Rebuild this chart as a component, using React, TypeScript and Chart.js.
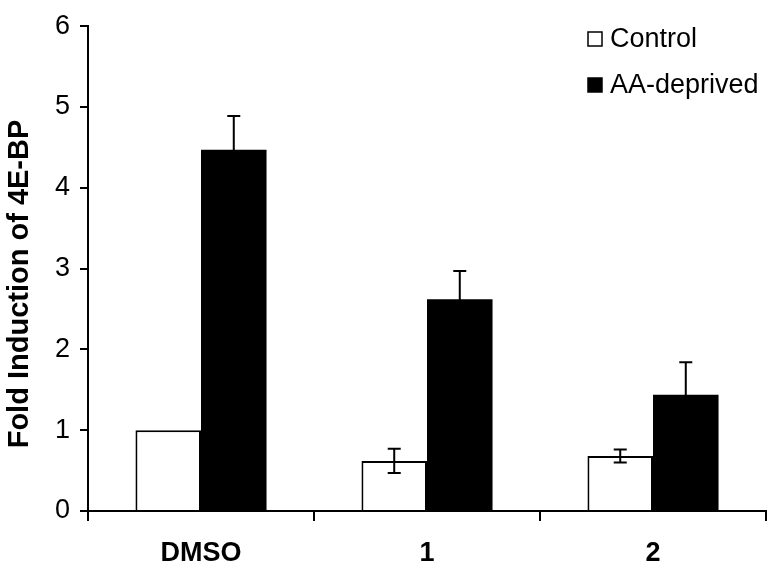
import React, { useEffect, useRef } from 'react';
import { Chart, registerables } from 'chart.js';

Chart.register(...registerables);

const categories = ['DMSO', '1', '2'];
const seriesNames = ['Control', 'AA-deprived'];
const controlValues = [1.0, 0.62, 0.68];
const controlErrors = [0, 0.15, 0.08];
const aaValues = [4.47, 2.62, 1.44];
const aaErrors = [0.42, 0.35, 0.4];
const yMin = 0;
const yMax = 6;
const yStep = 1;
const yTitle = 'Fold Induction of 4E-BP';

const FONT = "'Liberation Sans', Arial, Helvetica, sans-serif";

const errorBarPlugin = {
  id: 'errorBars',
  afterDatasetsDraw(chart: any) {
    const ctx = chart.ctx;
    const y = chart.scales.y;
    chart.data.datasets.forEach((ds: any, di: number) => {
      const meta = chart.getDatasetMeta(di);
      const errs: number[] = ds.errors || [];
      meta.data.forEach((bar: any, i: number) => {
        const e = errs[i];
        if (!e) return;
        const v = ds.data[i] as number;
        const x = bar.x;
        const yTop = y.getPixelForValue(v + e);
        const yBot = y.getPixelForValue(v - e);
        ctx.save();
        ctx.strokeStyle = '#000';
        ctx.lineWidth = 2;
        ctx.beginPath();
        ctx.moveTo(x, yTop);
        ctx.lineTo(x, yBot);
        ctx.moveTo(x - 6.5, yTop);
        ctx.lineTo(x + 6.5, yTop);
        ctx.moveTo(x - 6.5, yBot);
        ctx.lineTo(x + 6.5, yBot);
        ctx.stroke();
        ctx.restore();
      });
    });
  },
};

const legendTitlePlugin = {
  id: 'legendTitle',
  afterDraw(chart: any) {
    const ctx = chart.ctx;
    ctx.save();
    // legend
    ctx.font = `27px ${FONT}`;
    ctx.fillStyle = '#000';
    ctx.textAlign = 'left';
    ctx.textBaseline = 'alphabetic';
    chart.data.datasets.forEach((ds: any, i: number) => {
      const boxX = 588;
      const boxY = 32 + i * 46;
      if (i === 0) {
        ctx.fillStyle = '#fff';
        ctx.fillRect(boxX, boxY, 14, 14);
        ctx.strokeStyle = '#000';
        ctx.lineWidth = 1.5;
        ctx.strokeRect(boxX, boxY, 14, 14);
      } else {
        ctx.fillStyle = '#000';
        ctx.fillRect(boxX - 0.75, boxY - 0.75, 15.5, 15.5);
      }
      ctx.fillStyle = '#000';
      ctx.fillText(ds.label, 610, boxY + 14.5);
    });
    // y axis title
    ctx.translate(19.5, 284);
    ctx.rotate(-Math.PI / 2);
    ctx.font = `bold 29px ${FONT}`;
    ctx.textAlign = 'center';
    ctx.textBaseline = 'middle';
    ctx.fillText(yTitle, 0, 0);
    ctx.restore();
  },
};

export default function App() {
  const canvasRef = useRef<HTMLCanvasElement | null>(null);

  useEffect(() => {
    if (!canvasRef.current) return;
    const chart = new Chart(canvasRef.current, {
      type: 'bar',
      data: {
        labels: categories,
        datasets: [
          {
            label: seriesNames[0],
            data: controlValues,
            errors: controlErrors,
            backgroundColor: '#ffffff',
            borderColor: '#000000',
            borderWidth: 2,
            categoryPercentage: 0.58,
            barPercentage: 1,
          } as any,
          {
            label: seriesNames[1],
            data: aaValues,
            errors: aaErrors,
            backgroundColor: '#000000',
            borderColor: '#000000',
            borderWidth: 0,
            categoryPercentage: 0.58,
            barPercentage: 1,
          } as any,
        ],
      },
      options: {
        animation: false,
        responsive: false,
        maintainAspectRatio: false,
        devicePixelRatio: 1,
        layout: { padding: { top: 22, right: 8, left: 0, bottom: 0 } },
        plugins: {
          legend: { display: false },
          tooltip: { enabled: false },
          title: { display: false },
        },
        scales: {
          x: {
            type: 'category',
            offset: true,
            grid: {
              display: true,
              offset: true,
              drawOnChartArea: false,
              drawTicks: true,
              tickLength: 10,
              color: '#000',
              lineWidth: 2,
            },
            border: { display: true, color: '#000', width: 2 },
            ticks: {
              color: '#000',
              font: { family: FONT, size: 27, weight: 'bold' },
              padding: 16,
              maxRotation: 0,
              autoSkip: false,
            },
            afterFit(scale: any) {
              scale.height = 66;
            },
          },
          y: {
            min: yMin,
            max: yMax,
            ticks: {
              stepSize: yStep,
              color: '#000',
              font: { family: FONT, size: 27 },
              padding: 10,
            },
            grid: {
              display: true,
              drawOnChartArea: false,
              drawTicks: true,
              tickLength: 8,
              color: '#000',
              lineWidth: 2,
            },
            border: { display: true, color: '#000', width: 2 },
            afterFit(scale: any) {
              scale.width = 88;
            },
          },
        },
      } as any,
      plugins: [errorBarPlugin, legendTitlePlugin],
    });
    return () => chart.destroy();
  }, []);

  return (
    <div style={{ position: 'absolute', left: 0, top: 0, width: 774, height: 577, background: '#fff' }}>
      <canvas ref={canvasRef} width={774} height={577} style={{ width: 774, height: 577 }} />
    </div>
  );
}
